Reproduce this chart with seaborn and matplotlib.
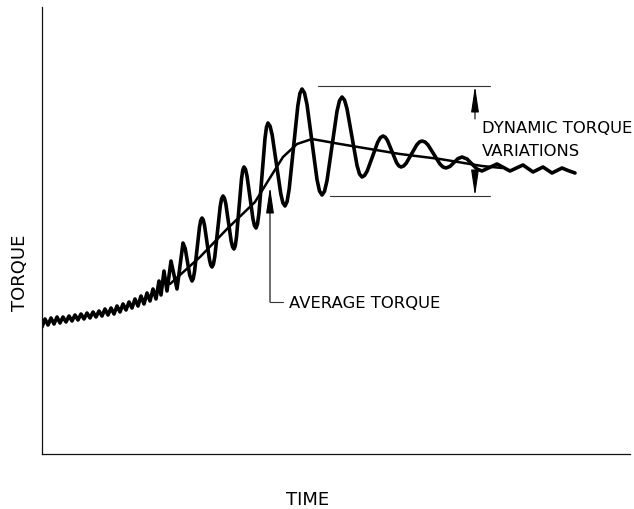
import seaborn as sns
import matplotlib.pyplot as plt

# torque trace (time, torque in arbitrary units)
time_pts = [0, 3, 6, 9, 12, 15, 18, 21, 24, 27, 30, 33, 36, 39, 42, 45, 48, 51, 54, 57,
            60, 63, 66, 69, 72, 75, 78, 81, 84, 87, 90, 93, 96, 99, 102, 105, 108, 111, 114, 117,
            119, 122, 125, 129, 132, 135, 138,
            141, 143.2, 145.5, 147.8, 150, 151.25, 152.5, 155, 157.5, 158.75,
            160, 161.25, 162.5, 165, 167.5, 168.75, 170, 171.4, 172.8, 175.5, 178.2, 179.6,
            181, 182.4, 183.8, 186.5, 189.2, 190.6, 192, 193.25, 194.5, 197, 199.5, 200.75,
            202, 203.5, 205, 208, 211, 212.5, 214, 215.5, 217, 220, 223, 224.5,
            226, 228.1, 230.2, 234.5, 238.8, 240.9, 243, 245.1, 247.2, 251.5, 255.8, 257.9,
            260, 262.5, 265, 270, 275, 277.5, 280, 282.5, 285, 290, 295, 297.5,
            300, 302.5, 305, 310, 315, 317.5, 320, 322.6, 325.2, 330.5, 335.8, 338.4,
            341, 343.25, 345.5, 350, 354.5, 356.75, 359, 361.6, 364.2, 369.5, 374.8, 377.4,
            380, 383, 386, 392, 398, 401, 404, 408, 412, 416, 420, 425, 430, 435, 440,
            447.5, 455, 461.5, 468, 474.5, 481, 486, 491, 496, 501, 505.5, 510, 515, 520,
            526, 533]
torque_pts = [127, 135, 129, 136, 130, 137, 131, 137, 132, 138, 133, 139, 134, 140, 135, 141,
              136, 142, 137, 143, 138, 145, 139, 146, 140, 148, 142, 150, 144, 152, 146, 155,
              148, 158, 150, 161, 153, 165, 155, 173, 159, 183, 163, 193, 179, 165, 188,
              211, 205.5, 192, 178.5, 173, 175.4, 182.2, 204.5, 226.8, 233.6,
              236, 234.1, 228.8, 211.5, 194.2, 188.9, 187, 189.7, 197.4, 222.5, 247.6, 255.3,
              258, 256.0, 250.3, 231.5, 212.7, 207.0, 205, 208.1, 217, 246, 275, 283.9,
              287, 284.7, 278.1, 256.5, 234.9, 228.3, 226, 230.0, 241.3, 278.5, 315.7, 327.0,
              331, 327.8, 318.9, 289.5, 260.1, 251.2, 248, 252.4, 265.1, 306.5, 347.9, 360.6,
              365, 361.0, 349.5, 312, 274.5, 263.0, 259, 262.7, 273.3, 308, 342.7, 353.3,
              357, 354.0, 345.3, 317, 288.7, 280.0, 277, 278.6, 283, 297.5, 312, 316.4,
              318, 316.8, 313.5, 302.5, 291.5, 288.2, 287, 288.0, 290.8, 300, 309.2, 312.0,
              313, 312.0, 309.1, 299.5, 289.9, 287.0, 286, 287.6, 291.5, 295.4, 297, 295, 290,
              285, 283, 286.5, 290, 286.5, 283, 286, 289, 285.5, 282, 284.5, 287, 284, 281,
              283.5, 286, 283.5, 281]

# average torque line
avg_time = [128, 158, 185, 213, 226, 241, 255, 270, 298, 328, 358, 398, 440, 460]
avg_torque = [170, 197, 225, 252, 273, 297, 310, 315, 310, 305, 300, 295, 288, 286]

# extent of the dynamic variations
dyn_max = 368
dyn_min = 258

sns.set_style("white")
plt.rcParams['font.family'] = ['DejaVu Sans']
plt.rcParams['text.color'] = 'black'
plt.rcParams['axes.labelcolor'] = 'black'

fig = plt.figure(figsize=(6.34, 5.10), dpi=100)
ax = fig.add_axes([42 / 634, 55 / 510, 588 / 634, 447 / 510])

sns.lineplot(x=time_pts, y=torque_pts, sort=False, estimator=None, color="black",
             linewidth=2.6, solid_joinstyle="round", solid_capstyle="round", ax=ax)
sns.lineplot(x=avg_time, y=avg_torque, sort=False, estimator=None, color="black",
             linewidth=1.8, ax=ax)

ax.set_xlim(0, 588)
ax.set_ylim(0, 447)
ax.set_xticks([])
ax.set_yticks([])
for side in ["top", "right"]:
    ax.spines[side].set_visible(False)
for side in ["left", "bottom"]:
    ax.spines[side].set_color("#111111")
    ax.spines[side].set_linewidth(0.9)

ax.set_xlabel("TIME", fontsize=13)
ax.xaxis.set_label_coords(0.451, -0.080)
ax.set_ylabel("TORQUE", fontsize=13)
ax.yaxis.set_label_coords(-0.022, 0.407)

# dynamic torque variations dimension
thin = dict(color="#333333", lw=0.8)
ax.plot([276, 448], [dyn_max, dyn_max], **thin)
ax.plot([288, 448], [dyn_min, dyn_min], **thin)
arrow = dict(arrowstyle="-|>,head_length=0.8,head_width=0.12", mutation_scale=20,
             color="black", lw=0.8, shrinkA=0, shrinkB=0)
ax.annotate("", xy=(433, dyn_max), xytext=(433, 335), arrowprops=arrow)
ax.annotate("", xy=(433, dyn_min), xytext=(433, 283), arrowprops=arrow)
ax.text(440, 326, "DYNAMIC TORQUE", fontsize=11.8, va="center", ha="left")
ax.text(440, 303, "VARIATIONS", fontsize=11.8, va="center", ha="left")

# average torque callout
ax.annotate("", xy=(228, 267), xytext=(228, 152), arrowprops=arrow)
ax.plot([228, 241], [152, 152], **thin)
ax.text(247, 151, "AVERAGE TORQUE", fontsize=11.8, va="center", ha="left")

fig.savefig("out.png", dpi=100)
